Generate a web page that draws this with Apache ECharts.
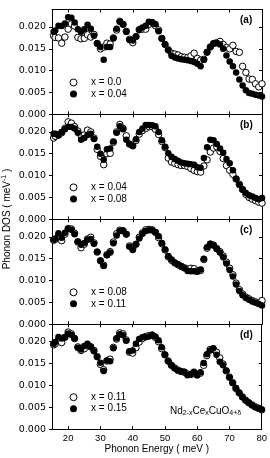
<!DOCTYPE html>
<html><head><meta charset="utf-8">
<script src="https://cdn.jsdelivr.net/npm/echarts@6/dist/echarts.min.js"></script>
<style>html,body{margin:0;padding:0;background:#fff}#c{width:270px;height:458px}</style>
</head><body><div id="c"></div><script>
// Phonon energy (meV)
const energy = [15.5,16,17,18,19,20,21,22,23,24,25,26,27,28,29,30,31,32,33,34,35,36,37,38,39,40,41,42,43,44,45,46,47,48,49,50,51,52,53,54,55,56,57,58,59,60,61,62,63,64,65,66,67,68,69,70,71,72,73,74,75,76,77,78,79,80];

// Panel (a)
const dosA_x000 = [0.0180,0.0176,0.0175,0.0163,0.0177,0.0195,0.0207,0.0202,0.0176,0.0173,0.0174,0.0182,0.0177,0.0183,0.0162,0.0150,0.0154,0.0163,0.0161,0.0175,0.0193,0.0213,0.0206,0.0190,0.0172,0.0164,0.0178,0.0194,0.0195,0.0195,0.0206,0.0210,0.0203,0.0193,0.0174,0.0160,0.0148,0.0140,0.0138,0.0136,0.0132,0.0131,0.0130,0.0134,0.0140,0.0128,0.0124,0.0126,0.0142,0.0154,0.0162,0.0164,0.0167,0.0160,0.0153,0.0150,0.0158,0.0144,0.0142,0.0110,0.0096,0.0081,0.0080,0.0070,0.0063,0.0070];
const dosA_x004 = [0.0189,0.0192,0.0203,0.0202,0.0208,0.0222,0.0221,0.0210,0.0195,0.0189,0.0195,0.0205,0.0196,0.0180,0.0163,0.0154,0.0125,0.0154,0.0154,0.0174,0.0196,0.0212,0.0206,0.0189,0.0170,0.0169,0.0178,0.0193,0.0199,0.0203,0.0212,0.0211,0.0207,0.0190,0.0173,0.0160,0.0147,0.0134,0.0130,0.0128,0.0126,0.0125,0.0124,0.0122,0.0120,0.0116,0.0110,0.0125,0.0143,0.0155,0.0162,0.0164,0.0160,0.0150,0.0135,0.0121,0.0110,0.0096,0.0080,0.0066,0.0055,0.0049,0.0047,0.0045,0.0043,0.0041];

// Panel (b)
const dosB_x004 = [0.0186,0.0190,0.0193,0.0198,0.0208,0.0223,0.0220,0.0212,0.0202,0.0192,0.0193,0.0204,0.0200,0.0186,0.0160,0.0144,0.0125,0.0150,0.0151,0.0176,0.0200,0.0217,0.0208,0.0191,0.0172,0.0168,0.0180,0.0195,0.0203,0.0208,0.0212,0.0212,0.0206,0.0194,0.0178,0.0164,0.0140,0.0131,0.0128,0.0125,0.0123,0.0123,0.0121,0.0116,0.0112,0.0109,0.0108,0.0122,0.0136,0.0154,0.0163,0.0166,0.0155,0.0139,0.0123,0.0112,0.0103,0.0092,0.0080,0.0068,0.0057,0.0050,0.0046,0.0043,0.0039,0.0037];
const dosB_x008 = [0.0196,0.0196,0.0192,0.0200,0.0206,0.0212,0.0211,0.0208,0.0198,0.0182,0.0186,0.0193,0.0196,0.0184,0.0166,0.0150,0.0136,0.0160,0.0162,0.0178,0.0198,0.0213,0.0206,0.0182,0.0172,0.0168,0.0183,0.0200,0.0208,0.0216,0.0216,0.0215,0.0213,0.0200,0.0181,0.0166,0.0151,0.0143,0.0138,0.0134,0.0130,0.0128,0.0127,0.0126,0.0125,0.0119,0.0118,0.0140,0.0165,0.0182,0.0181,0.0172,0.0162,0.0152,0.0138,0.0128,0.0112,0.0093,0.0079,0.0068,0.0060,0.0055,0.0052,0.0049,0.0046,0.0049];

// Panel (c)
const dosC_x008 = [0.0192,0.0194,0.0203,0.0191,0.0206,0.0219,0.0218,0.0208,0.0188,0.0175,0.0183,0.0195,0.0199,0.0186,0.0165,0.0145,0.0135,0.0159,0.0166,0.0188,0.0207,0.0215,0.0214,0.0206,0.0179,0.0172,0.0183,0.0199,0.0209,0.0216,0.0217,0.0216,0.0210,0.0198,0.0184,0.0170,0.0154,0.0146,0.0140,0.0136,0.0132,0.0129,0.0126,0.0128,0.0127,0.0122,0.0123,0.0148,0.0174,0.0183,0.0181,0.0173,0.0166,0.0156,0.0142,0.0128,0.0113,0.0094,0.0079,0.0069,0.0062,0.0058,0.0054,0.0051,0.0048,0.0054];
const dosC_x011 = [0.0194,0.0196,0.0208,0.0198,0.0209,0.0218,0.0216,0.0206,0.0189,0.0182,0.0186,0.0193,0.0195,0.0184,0.0166,0.0145,0.0133,0.0158,0.0164,0.0185,0.0203,0.0213,0.0213,0.0206,0.0177,0.0170,0.0183,0.0196,0.0207,0.0213,0.0215,0.0215,0.0211,0.0201,0.0186,0.0171,0.0156,0.0148,0.0141,0.0137,0.0133,0.0128,0.0122,0.0121,0.0121,0.0120,0.0125,0.0150,0.0176,0.0184,0.0180,0.0172,0.0164,0.0153,0.0139,0.0124,0.0109,0.0091,0.0076,0.0066,0.0060,0.0056,0.0052,0.0049,0.0046,0.0043];

// Panel (d)
const dosD_x011 = [0.0193,0.0195,0.0204,0.0198,0.0210,0.0222,0.0218,0.0207,0.0188,0.0180,0.0184,0.0192,0.0188,0.0180,0.0166,0.0148,0.0136,0.0156,0.0160,0.0187,0.0206,0.0220,0.0218,0.0204,0.0176,0.0174,0.0186,0.0199,0.0207,0.0212,0.0214,0.0215,0.0210,0.0200,0.0184,0.0170,0.0156,0.0146,0.0140,0.0135,0.0132,0.0130,0.0126,0.0125,0.0127,0.0124,0.0128,0.0146,0.0168,0.0182,0.0183,0.0176,0.0163,0.0149,0.0133,0.0119,0.0106,0.0093,0.0083,0.0074,0.0066,0.0060,0.0055,0.0051,0.0048,0.0044];
const dosD_x015 = [0.0195,0.0199,0.0211,0.0207,0.0211,0.0219,0.0216,0.0208,0.0186,0.0182,0.0190,0.0195,0.0189,0.0178,0.0165,0.0152,0.0133,0.0157,0.0155,0.0185,0.0208,0.0217,0.0215,0.0202,0.0178,0.0180,0.0195,0.0206,0.0210,0.0210,0.0212,0.0216,0.0212,0.0203,0.0187,0.0170,0.0155,0.0146,0.0139,0.0134,0.0132,0.0131,0.0123,0.0126,0.0131,0.0123,0.0130,0.0151,0.0171,0.0180,0.0185,0.0170,0.0154,0.0146,0.0134,0.0118,0.0106,0.0094,0.0083,0.0073,0.0066,0.0061,0.0055,0.0050,0.0047,0.0045];

const panelLabels = ['(a)','(b)','(c)','(d)'];
const openSeries = [dosA_x000, dosB_x004, dosC_x008, dosD_x011];
const filledSeries = [dosA_x004, dosB_x008, dosC_x011, dosD_x015];
const openNames = ['x = 0.0','x = 0.04','x = 0.08','x = 0.11'];
const filledNames = ['x = 0.04','x = 0.08','x = 0.11','x = 0.15'];
const xTicks = [20,30,40,50,60,70,80];
const yTicks = [0,0.005,0.010,0.015,0.020];
const xTickLabels = ['20','30','40','50','60','70','80'];
const xTitle = 'Phonon Energy ( meV )';

const gridTops = [9.5, 114.4, 219.3, 324.2];
const gridH = 104.9;
const black = '#000';
const sans = 'Liberation Sans, Arial, Helvetica, sans-serif';

const grids = [], xAxes = [], yAxes = [], series = [], legends = [], graphics = [];
gridTops.forEach((top, i) => {
  grids.push({left: 52, right: 8, top: top, height: gridH, containLabel: false});
  const last = i === 3;
  xAxes.push({
    gridIndex: i, type: 'value', min: 15, max: 80, position: 'bottom',
    axisLine: {show: true, onZero: false, lineStyle: {color: black, width: 1}},
    axisTick: {show: true, inside: true, length: 3, customValues: xTicks, lineStyle: {color: black}},
    axisLabel: {show: last, customValues: xTicks, margin: 4, fontSize: 9.5, fontFamily: sans, color: black,
      formatter: v => xTickLabels[xTicks.indexOf(v)] || ''},
    splitLine: {show: false},
    name: last ? xTitle : '', nameLocation: 'middle', nameGap: 13,
    nameTextStyle: {fontSize: 10, fontFamily: sans, color: black}
  });
  xAxes.push({
    gridIndex: i, type: 'value', min: 15, max: 80, position: 'top',
    axisLine: {show: true, onZero: false, lineStyle: {color: black, width: 1}},
    axisTick: {show: true, inside: true, length: 3, customValues: xTicks, lineStyle: {color: black}},
    axisLabel: {show: false}, splitLine: {show: false}
  });
  yAxes.push({
    gridIndex: i, type: 'value', min: 0, max: 0.024, position: 'left',
    axisLine: {show: true, onZero: false, lineStyle: {color: black, width: 1}},
    axisTick: {show: true, inside: false, length: 3, customValues: yTicks, lineStyle: {color: black}},
    axisLabel: {customValues: yTicks, margin: 6, fontSize: 9.5, fontFamily: 'DejaVu Sans, sans-serif', color: black,
      formatter: v => v.toFixed(3)},
    splitLine: {show: false}
  });
  yAxes.push({
    gridIndex: i, type: 'value', min: 0, max: 0.024, position: 'right',
    axisLine: {show: true, onZero: false, lineStyle: {color: black, width: 1}},
    axisTick: {show: true, inside: true, length: 3, customValues: yTicks, lineStyle: {color: black}},
    axisLabel: {show: false}, splitLine: {show: false}
  });
  const oName = panelLabels[i] + '|' + openNames[i];
  const fName = panelLabels[i] + '|' + filledNames[i];
  series.push({
    name: oName, type: 'scatter', xAxisIndex: 2 * i, yAxisIndex: 2 * i,
    symbol: 'circle', symbolSize: 6.5,
    itemStyle: {color: '#fff', borderColor: black, borderWidth: 1, opacity: 1},
    data: energy.map((e, k) => [e, openSeries[i][k]])
  });
  series.push({
    name: fName, type: 'scatter', xAxisIndex: 2 * i, yAxisIndex: 2 * i,
    symbol: 'circle', symbolSize: 6.5,
    itemStyle: {color: black, opacity: 1},
    data: energy.map((e, k) => [e, filledSeries[i][k]])
  });
  legends.push({
    data: [
      {name: oName, icon: 'circle', itemStyle: {color: '#fff', borderColor: black, borderWidth: 1}},
      {name: fName, icon: 'circle', itemStyle: {color: black, borderWidth: 0}}
    ],
    orient: 'vertical', left: 69.5, top: top + 67.5,
    padding: 0, itemGap: 0.5, itemWidth: 7, itemHeight: 7, selectedMode: false,
    formatter: n => n.split('|')[1],
    textStyle: {fontSize: 10, fontFamily: sans, color: black, lineHeight: 11, padding: [0, 0, 0, 9]}
  });
  graphics.push({
    type: 'text', left: 240, top: top + 6,
    style: {text: panelLabels[i], font: 'bold 10px ' + sans, fill: black}
  });
});

graphics.push({
  type: 'text', x: 7, y: 219, rotation: Math.PI / 2,
  style: {
    text: 'Phonon DOS ( meV{sup|-1} )', fill: black, font: '10px ' + sans,
    align: 'center', verticalAlign: 'middle', textAlign: 'center', textVerticalAlign: 'middle',
    rich: {sup: {fontSize: 7, fontFamily: sans, fill: black, verticalAlign: 'top', lineHeight: 12, padding: [0, 0, 5, 0]}}
  }
});
graphics.push({
  type: 'text', x: 170, y: 411,
  style: {
    text: 'Nd{sub|2-x}Ce{sub|x}CuO{sub|4+δ}', fill: black, font: '10px ' + sans,
    verticalAlign: 'middle', textVerticalAlign: 'middle',
    rich: {sub: {fontSize: 7, fontFamily: sans, fill: black, padding: [5, 0, 0, 0]}}
  }
});

const chart = echarts.init(document.getElementById('c'), null, {renderer: 'canvas'});
chart.setOption({
  animation: false, backgroundColor: '#fff',
  grid: grids, xAxis: xAxes, yAxis: yAxes, series: series, legend: legends, graphic: graphics
});
</script></body></html>
